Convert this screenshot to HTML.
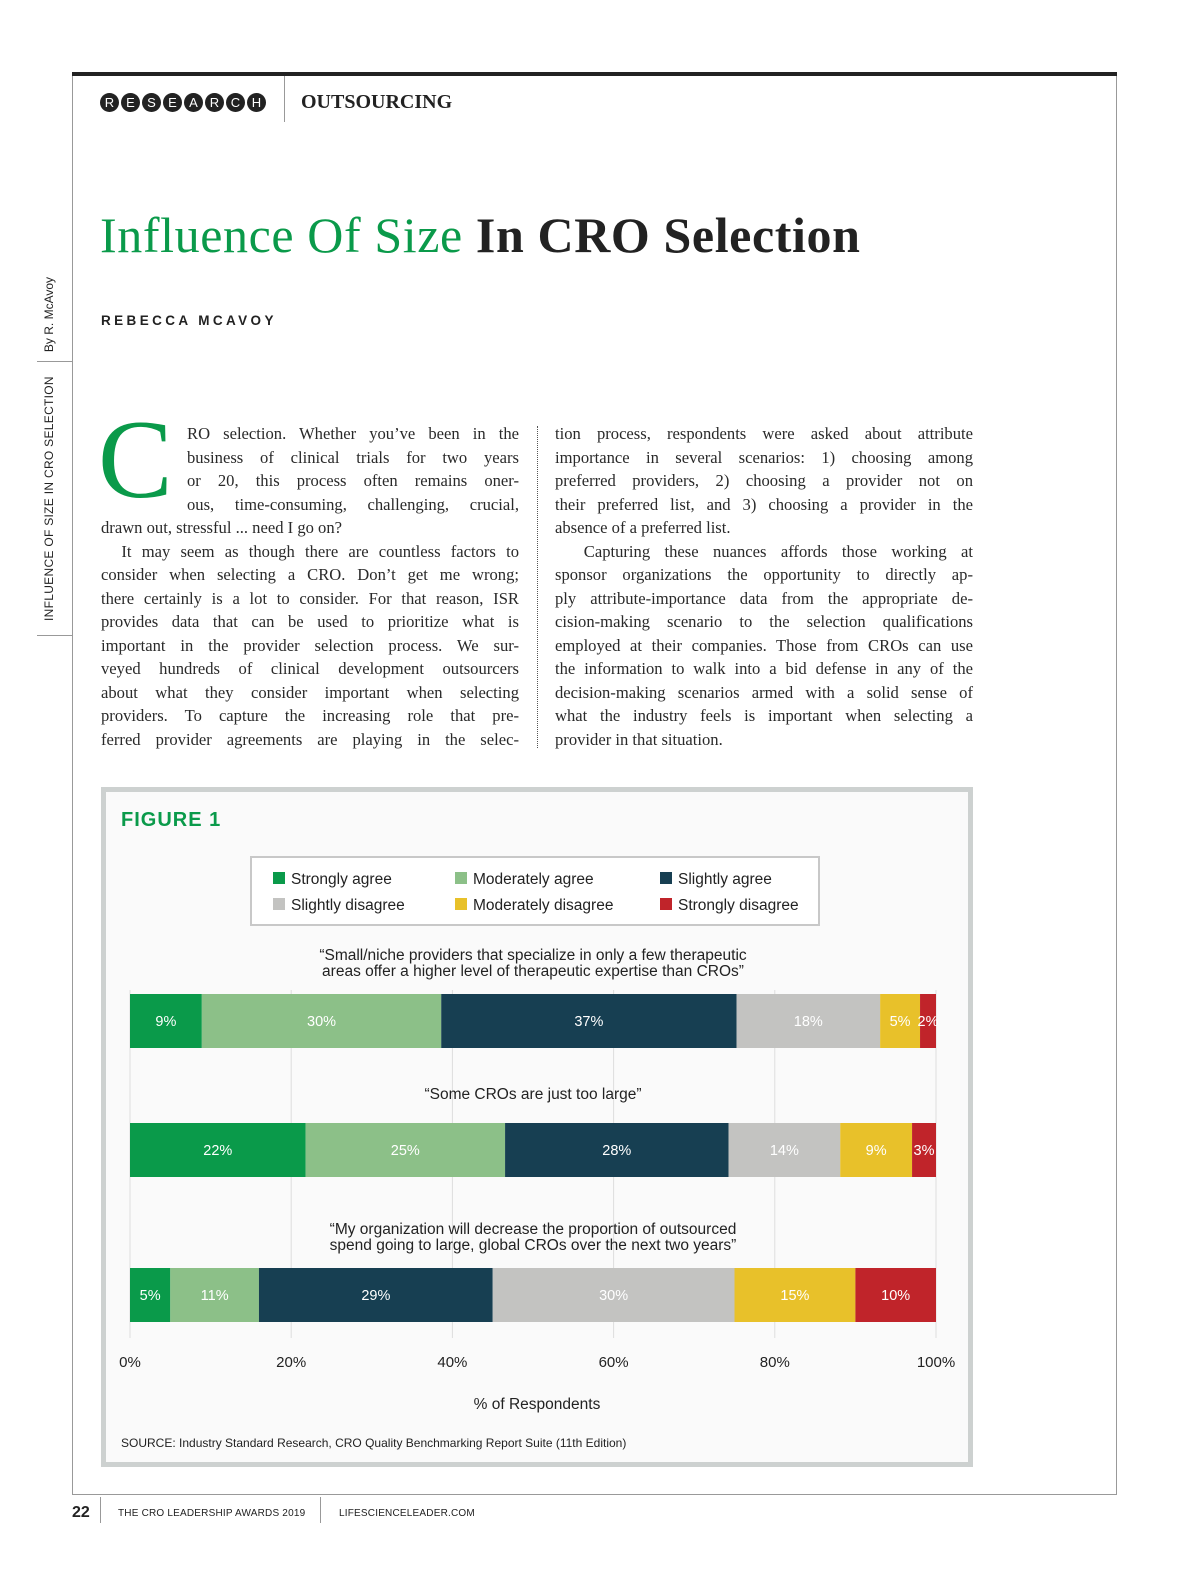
<!DOCTYPE html>
<html><head><meta charset="utf-8">
<style>
body{margin:0;width:1200px;height:1582px;background:#fff;position:relative;font-family:"Liberation Serif",serif;color:#222;overflow:hidden}
.abs{position:absolute}
.col{position:absolute;width:418px;font-size:16.6px;line-height:23.5px;color:#2a2a2a}
.l{text-align:justify;text-align-last:justify;white-space:nowrap}
.l.e{text-align-last:left}
.sans{font-family:"Liberation Sans",sans-serif}
.dot{display:inline-block;width:19px;height:19px;border-radius:50%;background:#222;color:#fff;font:13px "Liberation Sans",sans-serif;text-align:center;line-height:19px;margin-right:2px}
</style></head><body>
<div class="abs" style="left:72px;top:72px;width:1045px;height:4px;background:#222"></div>
<div class="abs" style="left:72px;top:76px;width:1043px;height:1418px;border-left:1px solid #999;border-right:1px solid #999;border-bottom:1px solid #999"></div>
<div class="abs" style="left:100px;top:93px;white-space:nowrap"><span class="dot">R</span><span class="dot">E</span><span class="dot">S</span><span class="dot">E</span><span class="dot">A</span><span class="dot">R</span><span class="dot">C</span><span class="dot">H</span></div>
<div class="abs" style="left:284px;top:76px;width:1px;height:46px;background:#999"></div>
<div class="abs" style="left:301px;top:91px;font-size:20px;font-weight:bold">OUTSOURCING</div>
<div class="abs" style="left:42px;top:621px;transform-origin:0 0;transform:rotate(-90deg);white-space:nowrap;font:12px 'Liberation Sans',sans-serif;letter-spacing:0.3px;width:360px"><span>INFLUENCE OF SIZE IN CRO SELECTION</span><span style="display:inline-block;width:24px"></span><span style="letter-spacing:0">By R. McAvoy</span></div>
<div class="abs" style="left:37px;top:635px;width:35px;height:1px;background:#999"></div>
<div class="abs" style="left:37px;top:361px;width:35px;height:1px;background:#999"></div>
<div class="abs" style="left:100px;top:206px;font-size:50px;letter-spacing:0.6px;white-space:nowrap"><span style="color:#0a9a4a">Influence Of Size</span> <b>In CRO Selection</b></div>
<div class="abs sans" style="left:101px;top:313px;font-size:13.5px;font-weight:bold;letter-spacing:3.4px">REBECCA MCAVOY</div>
<div class="abs" style="left:98px;top:404px;font-size:112px;line-height:112px;color:#0a9a4a">C</div>
<div class="col" style="left:101px;top:422px">
<div class="l" style="margin-left:86px">RO selection. Whether you’ve been in the</div>
<div class="l" style="margin-left:86px">business of clinical trials for two years</div>
<div class="l" style="margin-left:86px">or 20, this process often remains oner-</div>
<div class="l" style="margin-left:86px">ous, time-consuming, challenging, crucial,</div>
<div class="l e">drawn out, stressful ... need I go on?</div>
<div class="l">&nbsp;&nbsp;It may seem as though there are countless factors to</div>
<div class="l">consider when selecting a CRO. Don’t get me wrong;</div>
<div class="l">there certainly is a lot to consider. For that reason, ISR</div>
<div class="l">provides data that can be used to prioritize what is</div>
<div class="l">important in the provider selection process. We sur-</div>
<div class="l">veyed hundreds of clinical development outsourcers</div>
<div class="l">about what they consider important when selecting</div>
<div class="l">providers. To capture the increasing role that pre-</div>
<div class="l">ferred provider agreements are playing in the selec-</div>
</div>
<div class="abs" style="left:537px;top:426px;height:322px;border-left:1px dotted #555"></div>
<div class="col" style="left:555px;top:422px">
<div class="l">tion process, respondents were asked about attribute</div>
<div class="l">importance in several scenarios: 1) choosing among</div>
<div class="l">preferred providers, 2) choosing a provider not on</div>
<div class="l">their preferred list, and 3) choosing a provider in the</div>
<div class="l e">absence of a preferred list.</div>
<div class="l">&nbsp;&nbsp;Capturing these nuances affords those working at</div>
<div class="l">sponsor organizations the opportunity to directly ap-</div>
<div class="l">ply attribute-importance data from the appropriate de-</div>
<div class="l">cision-making scenario to the selection qualifications</div>
<div class="l">employed at their companies. Those from CROs can use</div>
<div class="l">the information to walk into a bid defense in any of the</div>
<div class="l">decision-making scenarios armed with a solid sense of</div>
<div class="l">what the industry feels is important when selecting a</div>
<div class="l e">provider in that situation.</div>
</div>

<div class="abs" style="left:101px;top:787px;width:862px;height:670px;border:5px solid #cdd1d0;background:#fafafa"></div>
<svg class="abs" style="left:0;top:0" width="1200" height="1582" id="chart"></svg>
<div class="abs sans" style="left:72px;top:1504px;font-size:16px;font-weight:bold">22</div>
<div class="abs" style="left:100px;top:1497px;width:1px;height:26px;background:#999"></div>
<div class="abs sans" style="left:118px;top:1508px;font-size:10px;letter-spacing:0.2px">THE CRO LEADERSHIP AWARDS 2019</div>
<div class="abs" style="left:320px;top:1497px;width:1px;height:26px;background:#999"></div>
<div class="abs sans" style="left:339px;top:1508px;font-size:10px;letter-spacing:0.2px">LIFESCIENCELEADER.COM</div>
<script>
const categories=["“Small/niche providers that specialize in only a few therapeutic|areas offer a higher level of therapeutic expertise than CROs”","“Some CROs are just too large”","“My organization will decrease the proportion of outsourced|spend going to large, global CROs over the next two years”"];
const seriesNames=["Strongly agree","Moderately agree","Slightly agree","Slightly disagree","Moderately disagree","Strongly disagree"];
const stronglyAgree=[9,22,5];
const moderatelyAgree=[30,25,11];
const slightlyAgree=[37,28,29];
const slightlyDisagree=[18,14,30];
const moderatelyDisagree=[5,9,15];
const stronglyDisagree=[2,3,10];
const xTicks=[0,20,40,60,80,100];
const colors=["#0a9a4a","#8cc088","#173f52","#c3c3c1","#e8c12a","#c0242a"];
const series=[stronglyAgree,moderatelyAgree,slightlyAgree,slightlyDisagree,moderatelyDisagree,stronglyDisagree];
const svg=document.getElementById('chart');
const NS="http://www.w3.org/2000/svg";
const x0=130,x1=936;
const xs=v=>x0+(x1-x0)*v/100;
const rowTop=[994,1123,1268],barH=54;
function mk(tag,attrs,txt){const e=document.createElementNS(NS,tag);for(const k in attrs)e.setAttribute(k,attrs[k]);if(txt!==undefined)e.textContent=txt;svg.appendChild(e);return e;}
const SANS="Liberation Sans, sans-serif";
let t=mk('text',{x:121,y:826,'font-family':SANS,'font-size':20,'font-weight':'bold',fill:'#0a9a4a','letter-spacing':1},'FIGURE 1');


let lb=mk('rect',{x:251,y:857,width:568,height:68,fill:'#fff',stroke:'#c8c8c8','stroke-width':2});


const lx=[273,455,660],ly=[878,904];
seriesNames.forEach((n,i)=>{const cx=lx[i%3],cy=ly[Math.floor(i/3)];
 const r=mk('rect',{x:cx,y:cy-6,width:12,height:12,fill:colors[i]});
 
 
 const tx=mk('text',{x:cx+18,y:cy+6,'font-family':SANS,'font-size':15.5,fill:'#222'},n);
 
 });
xTicks.forEach(v=>{const g=mk('line',{x1:xs(v),x2:xs(v),y1:990,y2:1338,stroke:'#ddd','stroke-width':1});
 
 
 const tl=mk('text',{x:xs(v),y:1367,'text-anchor':'middle','font-family':SANS,'font-size':15,fill:'#222'},v+'%');
 
 });
categories.forEach((c,ri)=>{
 const lines=c.split('|');const top=rowTop[ri];
 lines.forEach((ln,li)=>{const q=mk('text',{x:533,y:top-(lines.length-li)*16-2+ (lines.length==1?-6:0),'text-anchor':'middle','font-family':SANS,'font-size':15.5,fill:'#222'},ln);
  
  });
 const tot=series.reduce((s,a)=>s+a[ri],0);let acc=0;
 series.forEach((a,si)=>{const v=a[ri];const xa=xs(acc/tot*100),xb=xs((acc+v)/tot*100);acc+=v;
  const r=mk('rect',{x:xa,y:top,width:xb-xa,height:barH,fill:colors[si]});
  
  
  const tx=mk('text',{x:(xa+xb)/2,y:top+barH/2+5,'text-anchor':'middle','font-family':SANS,'font-size':14.5,fill:'#fff'},v+'%');
  
  });
});
let at=mk('text',{x:537,y:1409,'text-anchor':'middle','font-family':SANS,'font-size':15.5,fill:'#222'},'% of Respondents');


let src=mk('text',{x:121,y:1447,'font-family':SANS,'font-size':12,fill:'#222'},'SOURCE: Industry Standard Research, CRO Quality Benchmarking Report Suite (11th Edition)');


</script>
</body></html>
